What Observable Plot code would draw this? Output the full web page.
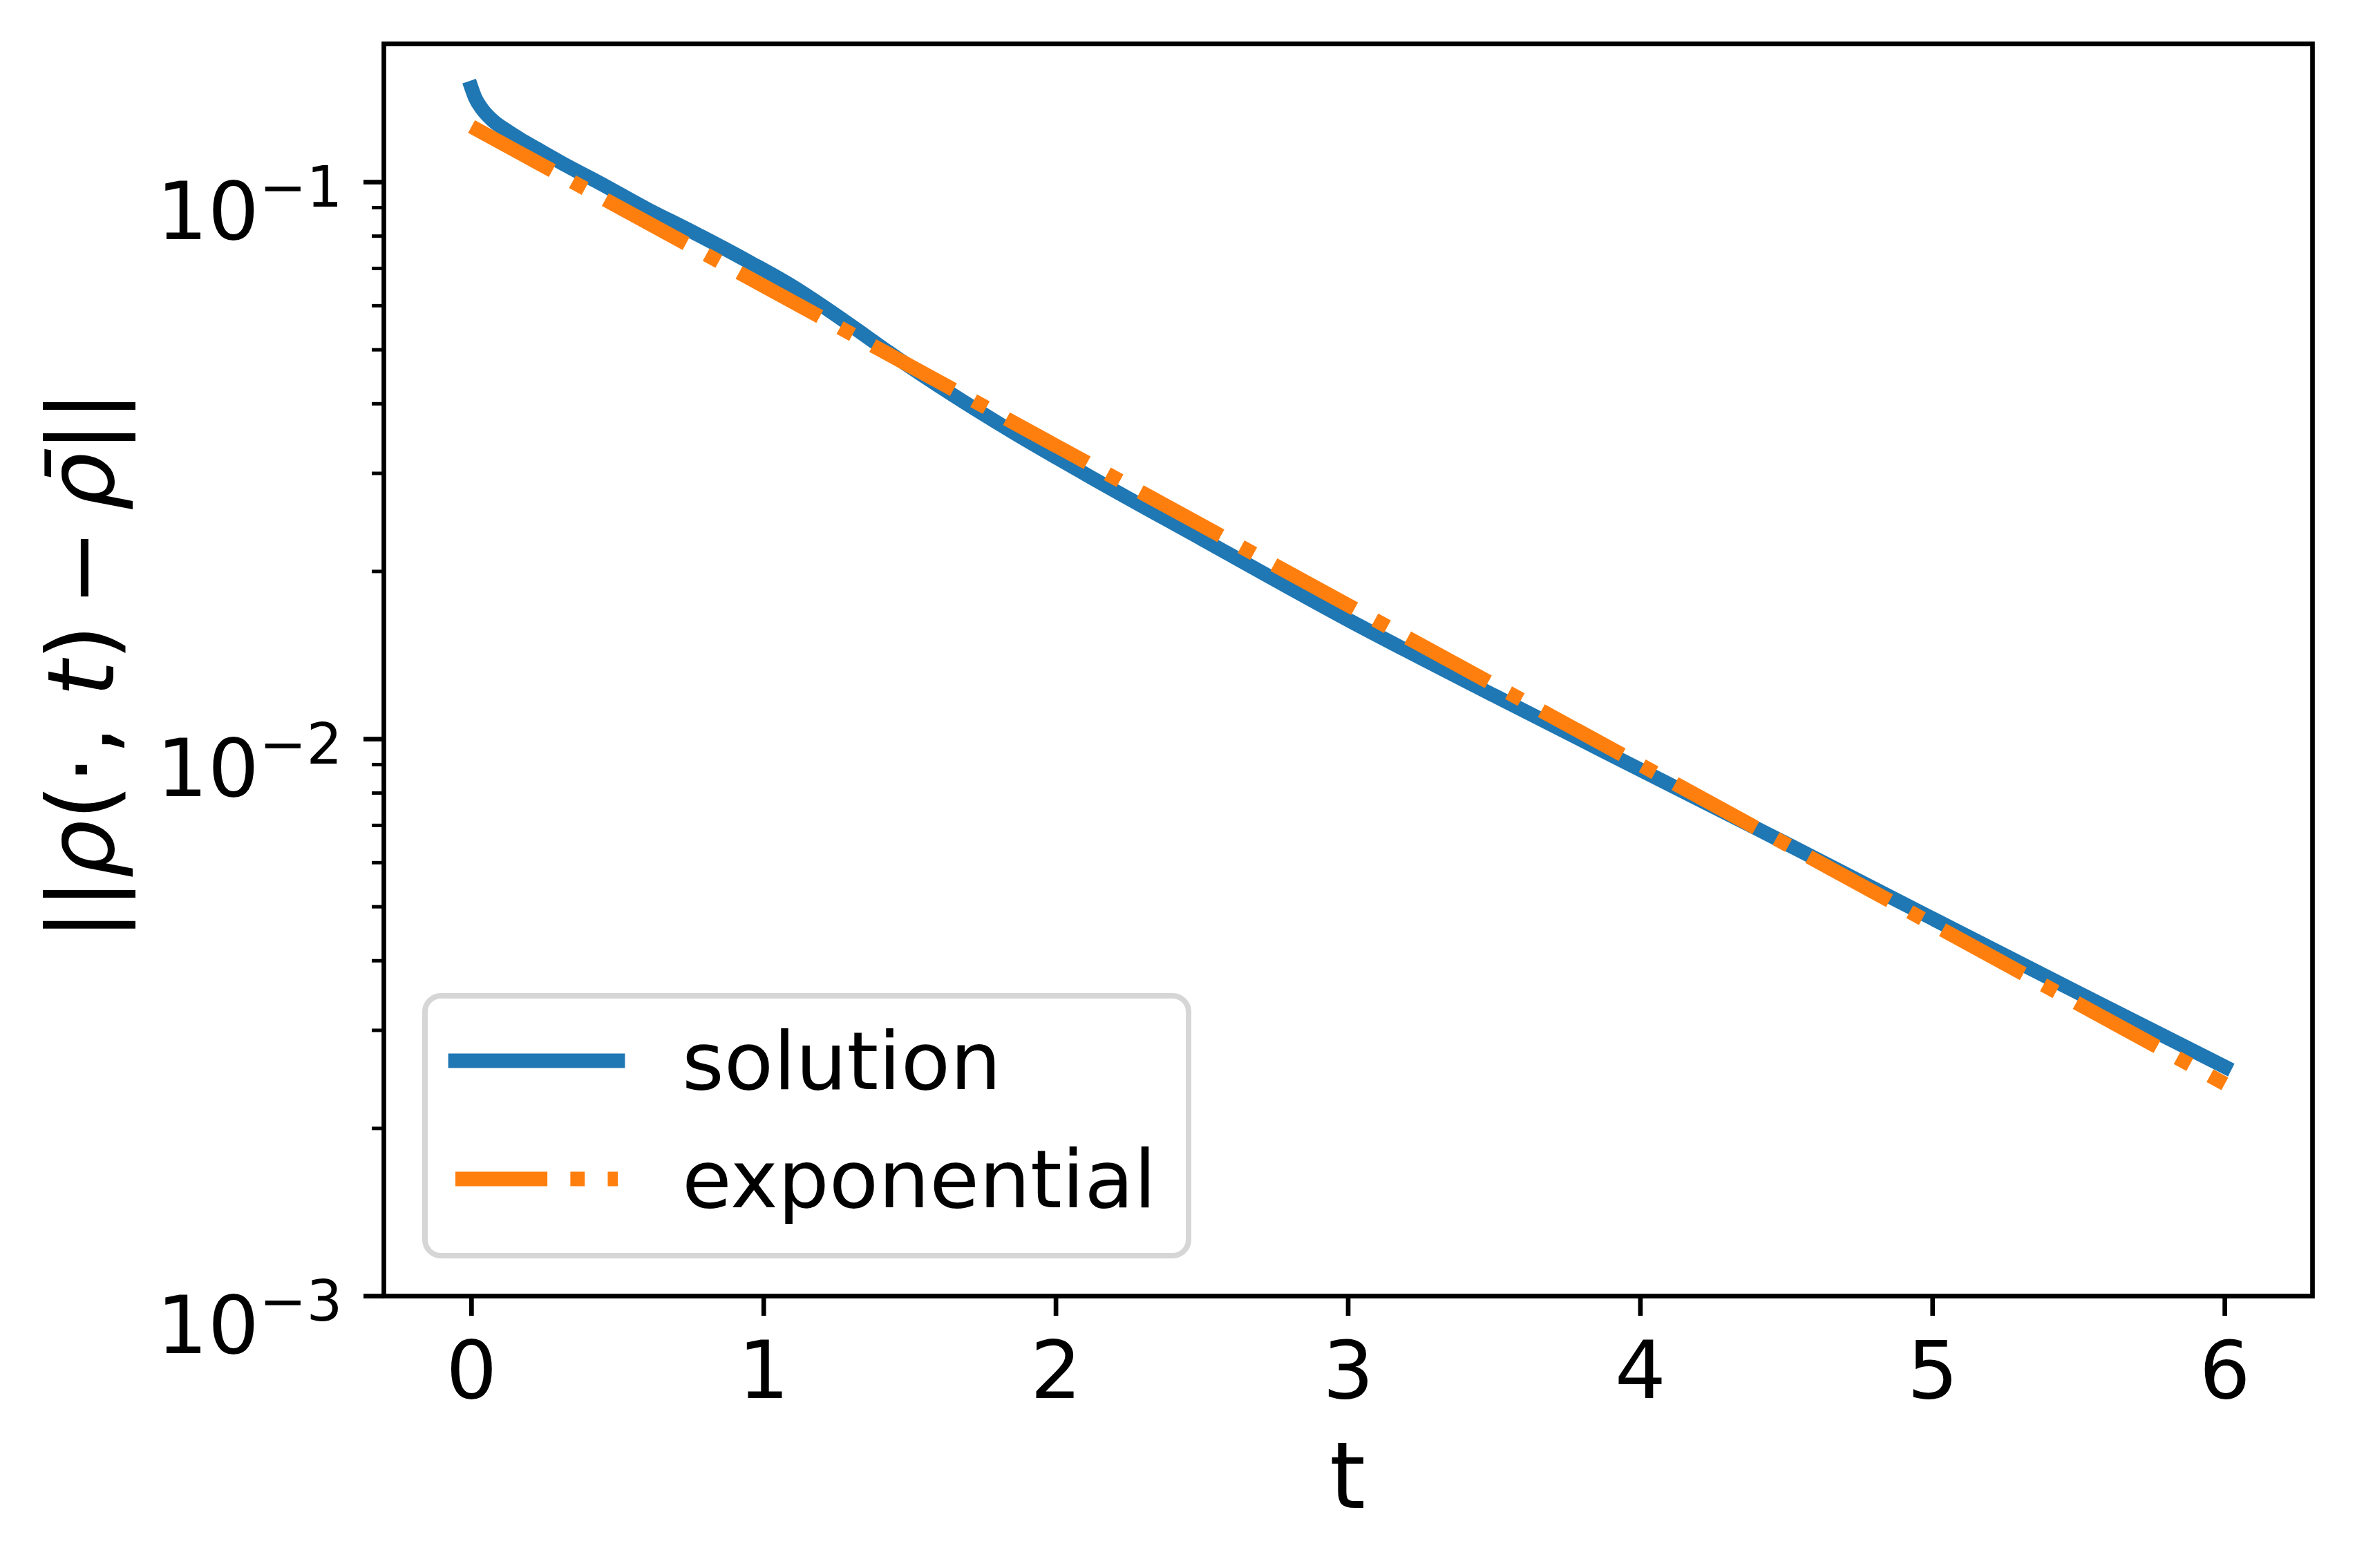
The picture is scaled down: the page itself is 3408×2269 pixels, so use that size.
<!DOCTYPE html>
<html>
<head>
<meta charset="utf-8">
<script src="https://cdn.jsdelivr.net/npm/d3@7"></script>
<script src="https://cdn.jsdelivr.net/npm/@observablehq/plot@0.6"></script>
<style>
  html, body { margin: 0; padding: 0; background: white; }
  svg { display: block; }
</style>
</head>
<body>
<div id="chart"></div>
<script>
// ---- data ----
const solutionT = [0, 0.012, 0.038, 0.075, 0.123, 0.175, 0.24, 0.323, 0.43, 0.6, 0.75, 0.95, 1.1, 1.2, 1.3, 1.43, 1.65, 1.85, 2.1, 2.5, 3.0, 3.5, 4.0, 4.5, 5.0, 5.5, 6.0];
const solutionV = [0.1476, 0.1419, 0.1349, 0.1287, 0.1235, 0.1187, 0.1135, 0.1072, 0.1002, 0.0895, 0.0817, 0.0719, 0.0649, 0.0600, 0.0552, 0.0494, 0.0414, 0.03565, 0.02992, 0.02286, 0.01637, 0.01197, 0.00881, 0.00649, 0.00476, 0.00350, 0.00258];
const exponentialT = [0, 1, 2, 3, 4, 5, 6];
const exponentialV = [0.1258, 0.0651, 0.03363, 0.01739, 0.008995, 0.004651, 0.002405];
const seriesNames = ["solution", "exponential"];
const seriesColors = ["#1f77b4", "#ff7f0e"];
const xTicks = [0, 1, 2, 3, 4, 5, 6];
const yTicks = [0.1, 0.01, 0.001];
const yMinorTicks = [0.002, 0.003, 0.004, 0.005, 0.006, 0.007, 0.008, 0.009, 0.02, 0.03, 0.04, 0.05, 0.06, 0.07, 0.08, 0.09];
const xLabel = "t";

const solution = solutionT.map((t, i) => ({t, v: solutionV[i]}));
const exponential = exponentialT.map((t, i) => ({t, v: exponentialV[i]}));

const LW = 20.8;
const FS = 116.7;
const LFS = 133;

const chart = Plot.plot({
  width: 3408,
  height: 2269,
  marginLeft: 555,
  marginRight: 62,
  marginTop: 63,
  marginBottom: 394,
  style: {fontFamily: "DejaVu Sans", background: "white", overflow: "visible", color: "black"},
  x: {domain: [-0.3, 6.3]},
  y: {type: "log", domain: [0.001, 0.1771]},
  marks: [
    Plot.line(solution, {x: "t", y: "v", stroke: seriesColors[0], strokeWidth: LW, curve: "monotone-x", strokeLinecap: "square", strokeLinejoin: "round"}),
    Plot.line(exponential, {x: "t", y: "v", stroke: seriesColors[1], strokeWidth: LW, strokeDasharray: `${6.4*LW},${1.6*LW},${LW},${1.6*LW}`, strokeLinecap: "butt"}),
    Plot.frame({stroke: "black", strokeWidth: 6.7}),
    Plot.axisX({ticks: xTicks, tickSize: 29, tickPadding: 36, strokeWidth: 6.7, fontSize: FS, tickFormat: d => String(d), label: null}),
    Plot.axisY({ticks: yTicks, tickSize: 29, tickPadding: 31, strokeWidth: 6.7, fontSize: FS, tickFormat: d => String(Math.round(Math.log10(d))), label: null}),
    Plot.axisY({ticks: yMinorTicks, tickSize: 17, strokeWidth: 5, tickFormat: () => "", label: null})
  ]
});
document.getElementById("chart").appendChild(chart);

const svg = d3.select(chart);

// superscript powers of ten on y tick labels
svg.selectAll('g[aria-label="y-axis tick label"] text').each(function () {
  const s = this.textContent.trim();
  if (!s) return;
  const e = Math.abs(parseInt(s.replace("\u2212", "-"), 10));
  const el = d3.select(this);
  el.text(null).attr("dy", "0.39em");
  el.append("tspan").text("10");
  el.append("tspan").attr("font-size", FS * 0.7).attr("dy", -47).text("\u2212" + e);
});

// x label
svg.append("text")
  .attr("x", 1950).attr("y", 2182)
  .attr("text-anchor", "middle")
  .attr("font-family", "DejaVu Sans")
  .attr("font-size", LFS)
  .text(xLabel);

// y label ||ρ(·, t) − ρ̄||
const yl = svg.append("text")
  .attr("transform", "translate(164,963) rotate(-90)")
  .attr("text-anchor", "middle")
  .attr("font-family", "DejaVu Sans")
  .attr("font-size", LFS);
const parts = [["||", false], ["\u03c1", true], ["(\u00b7, ", false], ["t", true], [")\u2009\u2212\u2009", false], ["\u03c1\u0304", true], ["||", false]];
parts.forEach(([s, it]) => yl.append("tspan").attr("font-style", it ? "italic" : "normal").text(s));

// legend
const lg = svg.append("g");
lg.append("rect")
  .attr("x", 615).attr("y", 1441).attr("width", 1105).attr("height", 376)
  .attr("rx", 23).attr("ry", 23)
  .attr("fill", "white").attr("fill-opacity", 0.8)
  .attr("stroke", "#d6d6d6").attr("stroke-width", 8);
const rows = [
  {y: 1535, base: 1576, dash: null, cap: "square"},
  {y: 1706, base: 1747, dash: `${6.4*LW},${1.6*LW},${LW},${1.6*LW}`, cap: "butt"}
];
rows.forEach((r, i) => {
  const ln = lg.append("line")
    .attr("x1", 659).attr("x2", 894).attr("y1", r.y).attr("y2", r.y)
    .attr("stroke", seriesColors[i]).attr("stroke-width", LW)
    .attr("stroke-linecap", r.cap);
  if (r.dash) ln.attr("stroke-dasharray", r.dash);
  lg.append("text")
    .attr("x", 987).attr("y", r.base)
    .attr("text-anchor", "start")
    .attr("font-family", "DejaVu Sans").attr("font-size", FS)
    .text(seriesNames[i]);
});
</script>
</body>
</html>
